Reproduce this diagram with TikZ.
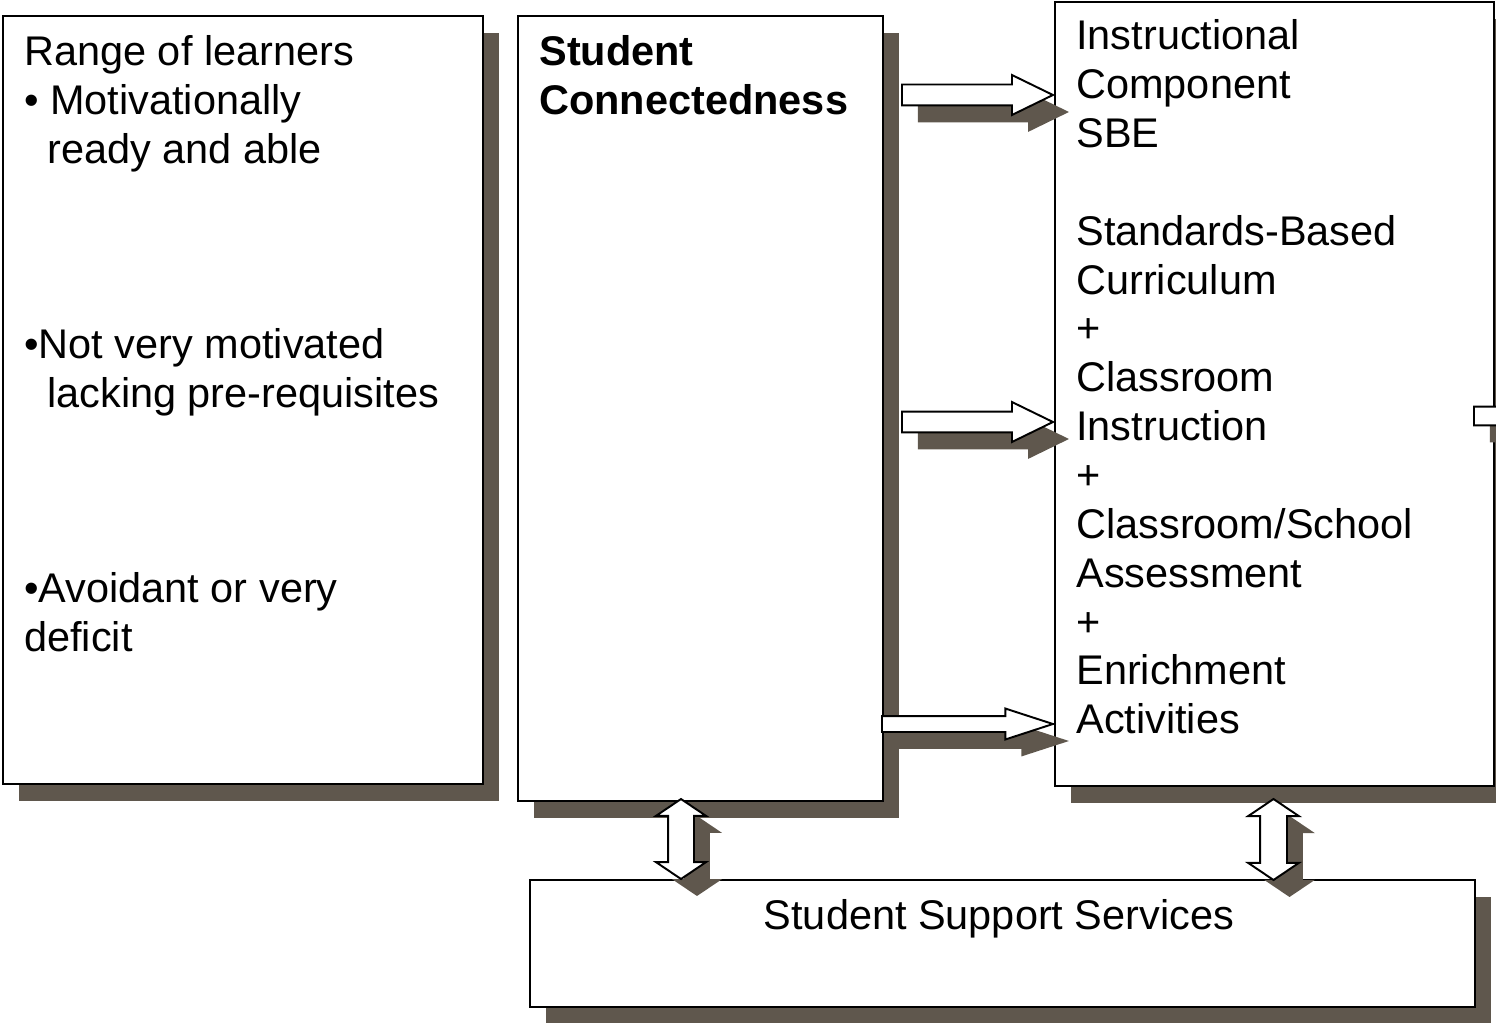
\documentclass[tikz,border=0pt]{standalone}
\usepackage{fontspec}
\setmainfont{Liberation Sans}
\usetikzlibrary{positioning,shapes.arrows,shadows}

\definecolor{shadowgrey}{RGB}{95,87,77}

\tikzset{
  hardshadow/.style={drop shadow={shadow xshift=0.32cm, shadow yshift=-0.34cm, fill=shadowgrey, opacity=1}},
  box/.style={rectangle, draw=black, line width=1.1pt, fill=white, inner sep=0pt, anchor=north west, hardshadow},
  txt/.style={inner sep=0pt, align=left, anchor=north west, font=\fontsize{23.6}{27.8}\selectfont},
  fatarrow/.style={single arrow, draw=black, line width=1.1pt, fill=white, inner sep=0pt,
    single arrow head indent=0pt, text depth=0pt, hardshadow},
  updown/.style={double arrow, shape border rotate=90, draw=black, line width=1.1pt, fill=white,
    inner sep=0pt, double arrow head indent=0pt, double arrow tip angle=112, text depth=0pt, hardshadow}
}

\begin{document}
\begin{tikzpicture}[x=0.02cm, y=-0.02cm]
  \useasboundingbox (0,0) rectangle (1496,1023);
  \clip (0,0) rectangle (1496,1023);

  % the four panels
  \node[box, minimum width=9.6cm, minimum height=15.36cm] (range) at (2,15) {};
  \node[box, minimum width=7.3cm, minimum height=15.7cm] (conn) at (517,15) {};
  \node[box, minimum width=8.78cm, minimum height=15.68cm] (instr) at (1054,1) {};
  \node[box, minimum width=18.9cm, minimum height=2.54cm] (support) at (529,879) {};

  % panel texts
  \node[txt, below right=0.4cm and 0.44cm of range.north west] (learners)
    {Range of learners\\
     \textbullet{} Motivationally\\
     \hspace*{0.46cm}ready and able\\
     ~\\ ~\\ ~\\
     \textbullet Not very motivated\\
     \hspace*{0.46cm}lacking pre-requisites\\
     ~\\ ~\\ ~\\
     \textbullet Avoidant or very\\
     deficit};
  \node[txt, below right=0.4cm and 0.44cm of conn.north west, font=\fontsize{23.6}{27.8}\selectfont\bfseries] (connlbl)
    {Student\\ Connectedness};
  \node[txt, below right=0.37cm and 0.44cm of instr.north west] (sbe)
    {Instructional\\ Component\\ SBE\\ ~\\
     Standards-Based\\ Curriculum\\ +\\ Classroom\\ Instruction\\ +\\
     Classroom/School\\ Assessment\\ +\\ Enrichment\\ Activities};
  \node[txt, anchor=north, below=0.4cm of support.north, xshift=-0.07cm] (supportlbl)
    {Student Support Services};

  % block arrows
  \node[fatarrow, text height=0.38cm, single arrow head extend=0.19cm, single arrow tip angle=52,
    minimum height=3.02cm, anchor=tail] (a1) at (901,95) {};
  \node[fatarrow, text height=0.38cm, single arrow head extend=0.19cm, single arrow tip angle=52,
    minimum height=3.02cm, anchor=tail] (a2) at (901,422) {};
  \node[fatarrow, text height=0.28cm, single arrow head extend=0.15cm, single arrow tip angle=36,
    minimum height=3.42cm, anchor=tail] (a3) at (881,724) {};
  \node[fatarrow, text height=0.34cm, single arrow head extend=0.2cm,
    minimum height=3cm, anchor=tail] (spill) at (1473,416) {};

  \node[updown, text width=0.48cm, text height=0.48cm, double arrow head extend=0.24cm,
    minimum height=1.6cm] (d1) at (681,839) {};
  \node[updown, text width=0.5cm, text height=0.5cm, double arrow head extend=0.24cm,
    minimum height=1.62cm] (d2) at (1273.5,839.5) {};
\end{tikzpicture}
\end{document}
